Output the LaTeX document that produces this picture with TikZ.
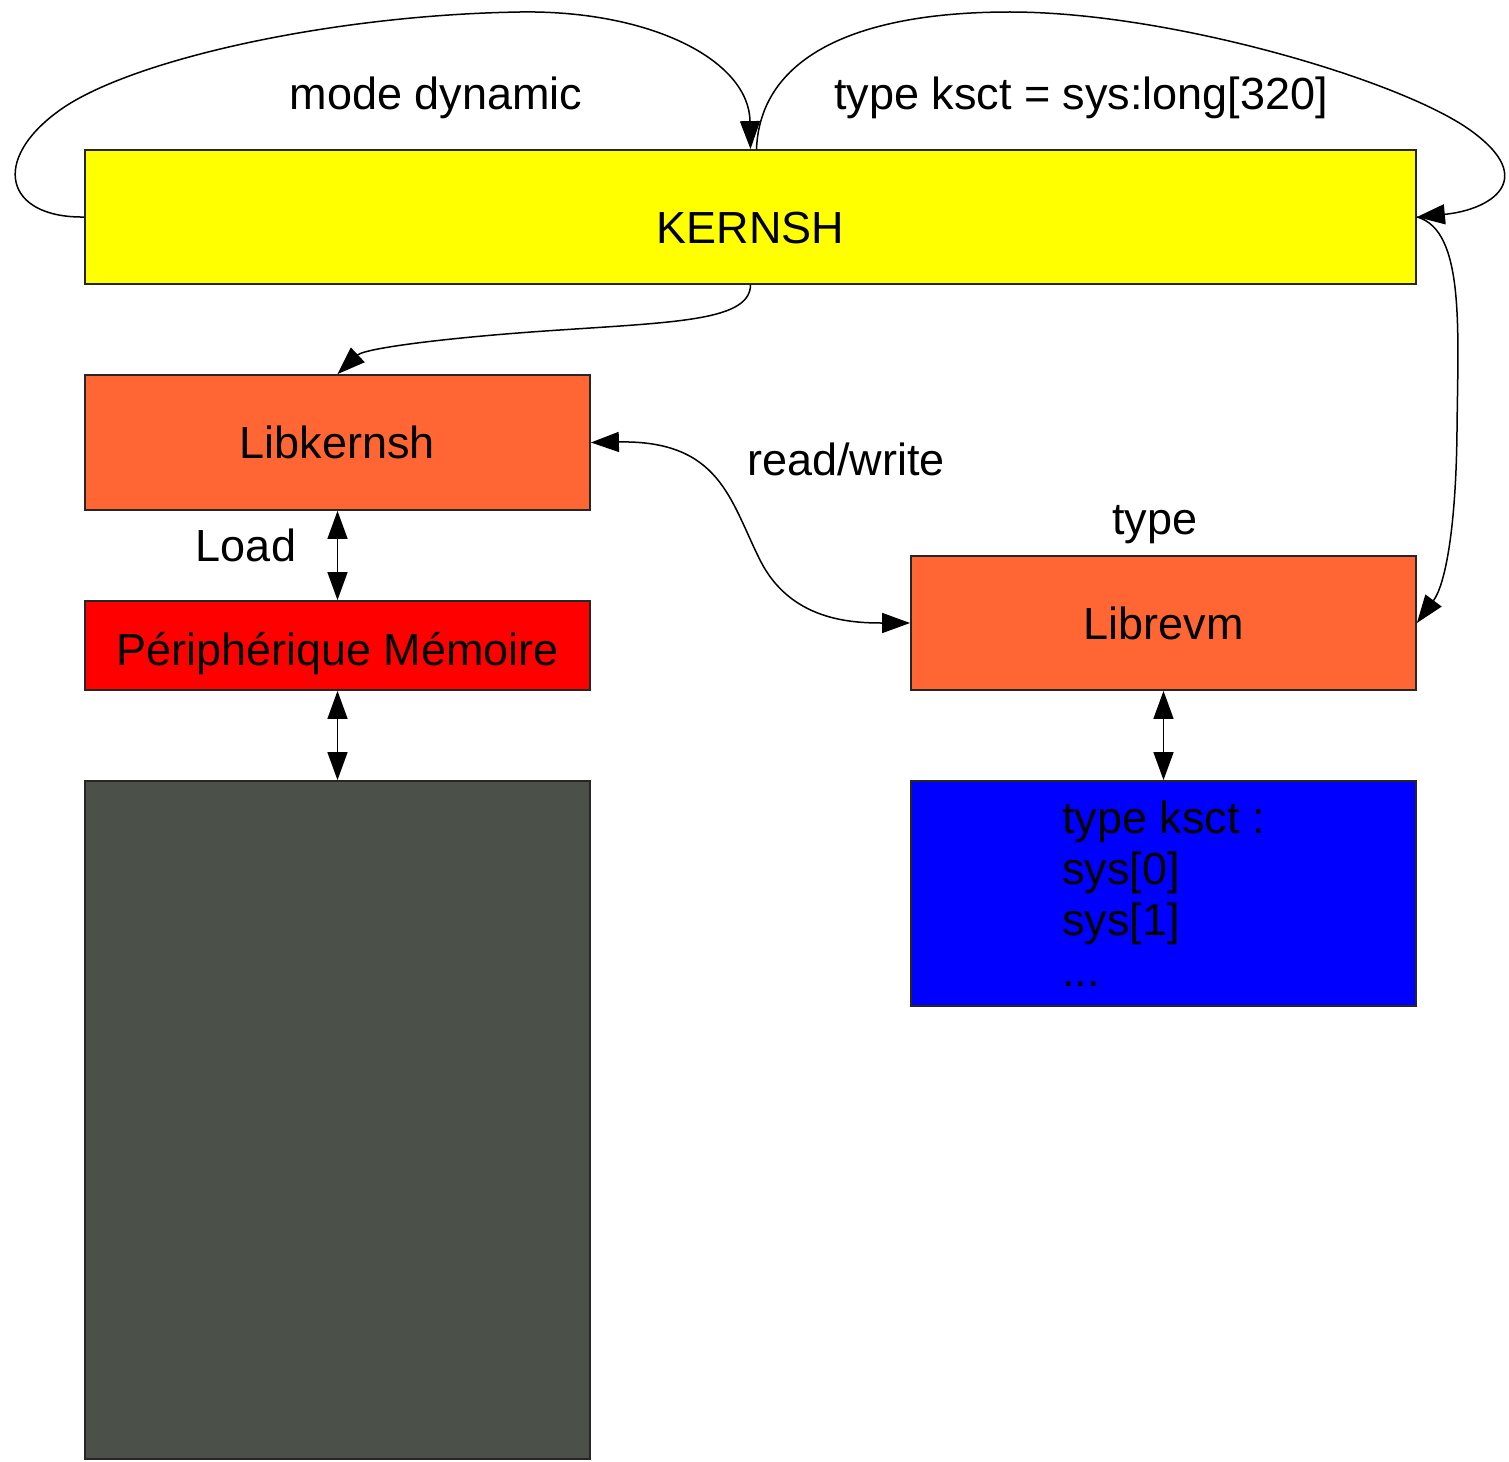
\documentclass[tikz,border=0pt]{standalone}
\usepackage{fontspec}
\setmainfont{Liberation Sans}
\usetikzlibrary{arrows.meta}
\definecolor{kyellow}{HTML}{FFFF00}
\definecolor{korange}{HTML}{FF6633}
\definecolor{kred}{HTML}{FF0000}
\definecolor{kgray}{HTML}{4B5049}
\definecolor{kblue}{HTML}{0000FF}
\begin{document}
\begin{tikzpicture}[x=0.5pt,y=-0.5pt,
  every node/.style={font=\fontsize{22.5pt}{25.5pt}\selectfont},
  box/.style={draw=black!85, line width=0.9pt, minimum width=252.5pt, inner sep=0pt},
  tip/.tip={Triangle[length=14pt,width=10pt]},
  conn/.style={line width=0.75pt, -tip},
  dconn/.style={line width=0.75pt, tip-tip}]
\useasboundingbox (0,0) rectangle (1509,1461);
\fill[white] (0,0) rectangle (1509,1461);

% boxes
\node[box, fill=kyellow, minimum width=665.5pt, minimum height=67pt, text height=26.8pt, text depth=0pt] (kernsh) at (750.5,217) {KERNSH};
\node[box, fill=korange, minimum height=67.5pt] (libk) at (337.5,442.5) {Libkernsh};
\node[box, fill=kred, minimum height=44.5pt, text height=23pt, text depth=3pt] (peri) at (337.5,645.5) {Périphérique Mémoire};
\node[box, fill=kgray, minimum height=339pt] (mem) at (337.5,1120) {};
\node[box, fill=korange, minimum height=67pt] (librevm) at (1163.5,623) {Librevm};
\node[box, fill=kblue, minimum height=112.5pt, align=left] (ksct) at (1163.5,893.5) {type ksct :\\sys[0]\\sys[1]\\...};

% labels
\node (lmode) at (436,98) {mode dynamic};
\node (ltype) at (1081,98) {type ksct = sys:long[320]};
\node (lrw) at (846,459) {read/write};
\node (ltyp2) at (1155,525) {type};
\node (lload) at (246,545) {Load};

% connectors
\draw[conn] (kernsh.west) .. controls (5,218) and (-10,160) .. (60,110)
  .. controls (130,60) and (330,15) .. (520,12)
  .. controls (650,10) and (749,60) .. (kernsh.north);
\draw[conn] ([xshift=3pt]kernsh.north) .. controls (760,60) and (850,12) .. (1010,12)
  .. controls (1170,12) and (1400,80) .. (1470,130)
  .. controls (1540,180) and (1490,210) .. (kernsh.east);
\draw[conn] (kernsh.south) .. controls (750,320) and (680,322) .. (560,330)
  .. controls (452,337) and (365,348) .. (libk.north);
\draw[dconn] (libk.east) .. controls (720,440) and (730,500) .. (760,560)
  .. controls (790,620) and (850,623) .. (librevm.west);
\draw[conn] (kernsh.east) .. controls (1465,230) and (1458,330) .. (1457,430)
  .. controls (1456,530) and (1445,585) .. (librevm.east);
\draw[dconn] (libk.south) -- (peri.north);
\draw[dconn] (peri.south) -- (mem.north);
\draw[dconn] (librevm.south) -- (ksct.north);
\end{tikzpicture}
\end{document}
